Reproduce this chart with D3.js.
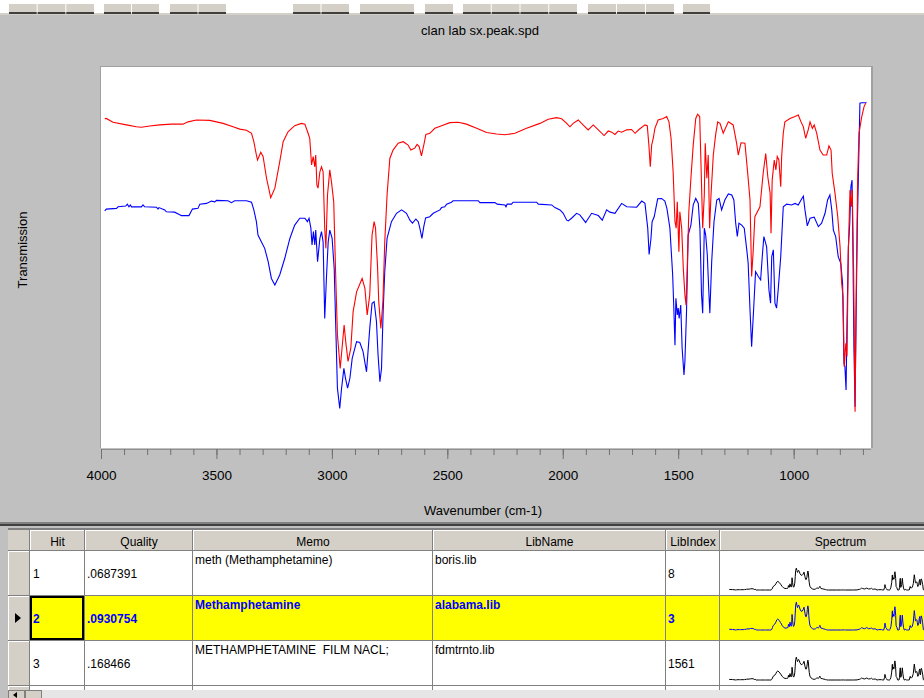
<!DOCTYPE html>
<html>
<head>
<meta charset="utf-8">
<script src="https://cdnjs.cloudflare.com/ajax/libs/d3/7.8.5/d3.min.js"></script>
<style>
  body { margin: 0; background: #c0c0c0; }
  svg { display: block; font-family: "Liberation Sans", Arial, sans-serif; }
  .pre { white-space: pre; }
</style>
</head>
<body>
<svg id="chart"></svg>
<script>
// sample spectrum (red), [wavenumber, transmission]
const sampleSpectrum = [
  [3984,86.4],[3977,86.5],[3948,85.5],[3890,84.8],[3847,84.3],[3825,84.2],[3789,84.5],[3746,84.8],[3695,85.0],[3645,85.0],
  [3623,85.6],[3587,86.1],[3529,86.0],[3471,85.2],[3428,84.3],[3399,83.7],[3370,83.4],[3348,82.6],[3338,80.4],[3327,76.9],
  [3322,75.6],[3308,77.6],[3298,76.5],[3283,70.8],[3265,65.7],[3247,68.2],[3226,75.1],[3211,80.4],[3190,83.0],[3161,84.6],
  [3132,85.2],[3117,85.0],[3103,82.6],[3096,81.3],[3088,74.3],[3081,76.5],[3074,73.8],[3070,76.9],[3065,69.0],[3060,68.2],
  [3052,72.5],[3045,73.8],[3038,72.5],[3031,57.7],[3026,52.4],[3019,66.4],[3009,73.0],[3002,69.9],[2992,64.6],[2984,46.3],
  [2976,29.7],[2964,20.9],[2956,26.2],[2947,32.3],[2940,27.9],[2930,22.7],[2918,26.2],[2908,35.8],[2893,41.0],[2869,44.5],
  [2857,41.9],[2847,34.9],[2836,40.2],[2826,55.9],[2817,59.4],[2811,57.7],[2802,47.2],[2797,38.4],[2788,31.4],[2779,38.4],
  [2771,54.1],[2761,66.4],[2749,76.0],[2735,78.2],[2713,80.0],[2691,80.4],[2670,79.5],[2658,78.2],[2641,78.7],[2631,79.7],
  [2622,79.1],[2612,76.7],[2602,79.5],[2593,82.3],[2576,82.6],[2554,83.9],[2525,84.6],[2489,85.4],[2453,85.5],[2417,85.0],
  [2373,83.9],[2330,82.8],[2287,82.4],[2251,82.2],[2207,82.6],[2157,83.9],[2099,85.2],[2063,86.3],[2027,86.7],[2005,86.4],
  [1983,85.2],[1969,84.3],[1955,85.2],[1933,86.1],[1912,84.8],[1890,83.5],[1868,84.8],[1846,83.5],[1821,82.0],[1803,83.2],
  [1788,82.9],[1774,82.3],[1760,83.2],[1745,82.9],[1723,83.5],[1702,83.6],[1687,82.6],[1670,83.6],[1644,84.8],[1634,84.6],
  [1627,79.5],[1621,73.8],[1615,79.5],[1608,81.3],[1601,83.9],[1587,86.1],[1565,86.5],[1550,87.0],[1540,85.6],[1531,81.3],
  [1522,72.5],[1514,59.4],[1509,57.7],[1504,64.6],[1497,51.5],[1493,62.0],[1485,57.7],[1478,47.2],[1471,40.2],[1466,37.5],
  [1461,47.2],[1454,62.0],[1445,70.8],[1435,79.5],[1424,86.5],[1416,87.6],[1407,87.0],[1402,76.0],[1394,57.7],[1387,66.4],
  [1383,80.0],[1376,70.8],[1370,76.9],[1364,57.7],[1358,66.4],[1348,76.9],[1338,82.2],[1329,85.6],[1319,85.2],[1305,82.6],
  [1283,85.6],[1262,84.8],[1247,80.0],[1240,76.9],[1228,80.1],[1211,80.0],[1199,72.1],[1189,65.1],[1182,45.0],[1175,52.0],
  [1168,60.7],[1146,63.3],[1132,72.1],[1121,77.3],[1112,71.2],[1102,66.9],[1098,56.4],[1093,70.3],[1084,75.6],[1077,73.0],
  [1071,76.5],[1064,75.6],[1056,68.6],[1052,76.5],[1045,82.6],[1038,85.6],[1016,86.5],[994,87.0],[980,87.4],[968,85.6],
  [958,84.3],[948,81.3],[937,83.5],[929,85.6],[919,83.9],[911,84.8],[900,82.6],[886,78.2],[872,76.9],[857,76.9],
  [847,79.3],[838,78.2],[833,72.1],[821,66.9],[809,60.7],[799,52.8],[792,43.2],[786,39.7],[781,21.3],[774,27.5],
  [769,24.0],[763,52.0],[756,67.7],[750,63.3],[746,67.7],[740,45.0],[734,9.5],[729,41.5],[723,70.3],[717,82.6],
  [705,87.0],[695,89.6],[688,90.5]
];

// library hit spectrum (blue), [wavenumber, transmission]
const librarySpectrum = [
  [3984,62.2],[3977,62.7],[3933,62.9],[3926,63.3],[3893,63.5],[3886,64.0],[3879,63.3],[3873,63.8],[3868,63.3],[3825,63.3],
  [3818,63.8],[3811,63.3],[3760,63.2],[3753,62.7],[3749,63.1],[3724,62.5],[3717,62.0],[3681,61.9],[3659,61.2],[3652,61.0],
  [3619,61.0],[3604,62.7],[3580,62.9],[3572,64.0],[3543,64.2],[3522,64.8],[3507,64.6],[3500,65.0],[3450,64.9],[3435,64.4],
  [3421,64.9],[3370,64.9],[3348,64.5],[3338,62.5],[3327,59.4],[3320,55.9],[3305,54.1],[3291,52.4],[3276,48.9],[3262,44.5],
  [3247,42.8],[3226,45.4],[3204,49.8],[3182,55.0],[3161,58.5],[3139,60.3],[3117,60.3],[3106,59.4],[3099,60.3],[3091,57.7],
  [3086,53.3],[3080,56.8],[3074,53.3],[3070,57.2],[3062,48.9],[3052,55.0],[3045,56.8],[3038,54.1],[3031,34.0],[3023,45.4],
  [3016,54.1],[3009,57.2],[2999,55.0],[2990,47.2],[2983,31.4],[2976,15.7],[2966,10.4],[2958,15.7],[2948,20.9],[2941,18.3],
  [2932,15.7],[2922,18.3],[2912,23.5],[2893,27.9],[2879,27.7],[2865,25.3],[2850,20.0],[2836,31.4],[2826,38.0],[2817,38.4],
  [2807,33.2],[2800,24.4],[2792,17.4],[2785,20.9],[2778,35.8],[2771,46.3],[2761,55.0],[2742,59.4],[2720,61.6],[2698,62.5],
  [2677,61.6],[2662,59.8],[2651,59.0],[2636,60.1],[2626,59.4],[2619,57.7],[2610,55.0],[2602,58.1],[2594,60.4],[2576,60.7],
  [2561,61.6],[2532,62.5],[2525,63.1],[2511,63.3],[2503,64.0],[2482,64.5],[2475,64.9],[2366,64.9],[2359,64.4],[2294,64.4],
  [2284,64.0],[2251,63.8],[2246,63.3],[2241,64.0],[2222,64.0],[2215,64.5],[2113,64.5],[2106,64.0],[2048,63.8],[2034,63.1],
  [2012,62.5],[1998,61.6],[1983,59.8],[1976,59.6],[1962,60.3],[1940,61.6],[1926,61.2],[1901,59.2],[1875,61.6],[1846,61.0],
  [1829,59.8],[1810,62.5],[1796,61.9],[1774,61.6],[1745,64.2],[1723,63.3],[1680,63.2],[1658,64.8],[1644,64.2],[1632,57.7],
  [1626,50.8],[1618,55.0],[1613,59.4],[1604,60.7],[1589,65.4],[1572,65.5],[1558,64.8],[1549,62.9],[1536,57.7],[1524,45.4],
  [1519,36.7],[1514,27.0],[1510,39.3],[1504,34.9],[1500,36.7],[1496,34.0],[1489,37.5],[1483,26.2],[1475,19.2],[1471,22.7],
  [1464,35.8],[1457,55.9],[1445,58.5],[1435,63.8],[1424,65.5],[1413,64.2],[1406,57.7],[1399,40.2],[1394,35.4],[1387,57.7],
  [1381,55.9],[1374,50.7],[1368,41.9],[1363,35.4],[1355,48.9],[1345,59.4],[1333,65.1],[1323,65.5],[1312,62.5],[1298,65.1],
  [1283,66.7],[1268,66.4],[1259,65.1],[1251,59.0],[1244,55.5],[1237,59.0],[1225,58.5],[1214,57.7],[1203,52.0],[1197,48.5],
  [1189,36.2],[1182,26.6],[1172,38.0],[1165,46.3],[1153,45.0],[1143,44.1],[1136,50.2],[1129,55.5],[1117,52.8],[1107,41.5],
  [1100,38.0],[1095,50.2],[1088,52.0],[1081,38.0],[1074,36.7],[1067,41.5],[1056,50.2],[1045,63.3],[1030,64.0],[1009,63.8],
  [994,64.2],[980,63.8],[968,65.1],[958,66.1],[951,62.5],[941,58.3],[929,60.3],[911,60.6],[893,58.1],[879,59.0],
  [864,61.6],[853,65.1],[843,66.4],[835,62.5],[828,57.2],[818,55.5],[807,50.2],[796,48.5],[788,43.2],[782,22.2],
  [778,21.3],[773,15.2],[769,32.7],[763,52.8],[757,59.0],[752,68.6],[747,70.3],[743,50.2],[739,26.6],[734,10.8],
  [730,32.7],[724,59.0],[720,70.3],[713,90.5],[705,90.6],[684,90.6]
];

const majorTicks = [4000, 3500, 3000, 2500, 2000, 1500, 1000];
const minorTicks = [4000,3900,3800,3700,3600,3500,3400,3300,3200,3100,3000,2900,2800,2700,2600,2500,
  2400,2300,2200,2100,2000,1900,1800,1700,1600,1500,1400,1300,1200,1100,1000,900,800,700];

// hit list table (row 4 is cut off by the scrollbar: only its top-aligned texts peek out)
const columns = ["Hit", "Quality", "Memo", "LibName", "LibIndex", "Spectrum"];
const hits = [1, 2, 3, 4];
const qualities = [".0687391", ".0930754", ".168466", ""];
const memos = ["meth (Methamphetamine)", "Methamphetamine", "METHAMPHETAMINE  FILM NACL;", "R:I METHAMPHETAMINE  FILM NACL;"];
const libNames = ["boris.lib", "alabama.lib", "fdmtrnto.lib", "fdmtrnto.lib"];
const libIndexes = [8, 3, 1561, ""];
const selectedHit = 2;

const W = 924, H = 698;
const plot = { left: 101, right: 871, top: 67, bottom: 448 };

const svg = d3.select("#chart").attr("width", W).attr("height", H);

// background
svg.append("rect").attr("width", W).attr("height", H).attr("fill", "#c0c0c0");

// toolbar strip at the very top (cut off)
svg.append("rect").attr("x", 0).attr("y", 0).attr("width", W).attr("height", 13).attr("fill", "#ffffff");
svg.append("rect").attr("x", 0).attr("y", 13).attr("width", W).attr("height", 2).attr("fill", "#d4d0c8");
const buttonGroups = [[9, 95, 3], [104, 160, 2], [170, 227, 2], [293, 350, 2], [360, 415, 1], [425, 454, 1], [463, 578, 4], [588, 675, 3], [683, 711, 1]];
buttonGroups.forEach(([x0, x1, n]) => {
  const bw = (x1 - x0) / n;
  for (let i = 0; i < n; i++) {
    const bx = x0 + i * bw;
    svg.append("rect").attr("x", bx).attr("y", 4).attr("width", bw - 1).attr("height", 9)
      .attr("fill", "#d4d0c8");
    svg.append("rect").attr("x", bx).attr("y", 12).attr("width", bw - 1).attr("height", 2)
      .attr("fill", "#404040");
  }
});

// title
svg.append("text").attr("x", 480).attr("y", 35).attr("text-anchor", "middle")
  .attr("font-size", 13).attr("fill", "#000").text("clan lab sx.peak.spd");

// plot area
svg.append("rect").attr("x", plot.left - 1).attr("y", plot.top - 1)
  .attr("width", plot.right - plot.left + 3).attr("height", plot.bottom - plot.top + 1)
  .attr("fill", "#a0a0a0");
svg.append("rect").attr("x", plot.left).attr("y", plot.top)
  .attr("width", plot.right - plot.left).attr("height", plot.bottom - plot.top)
  .attr("fill", "#ffffff");

const x = d3.scaleLinear().domain([4000, 665]).range([plot.left, plot.right]);
const y = d3.scaleLinear().domain([0, 100]).range([plot.bottom, plot.top]);

svg.append("clipPath").attr("id", "plotClip").append("rect")
  .attr("x", plot.left).attr("y", plot.top)
  .attr("width", plot.right - plot.left).attr("height", plot.bottom - plot.top);

const line = d3.line().x(d => x(d[0])).y(d => y(d[1]));

const curves = svg.append("g").attr("clip-path", "url(#plotClip)");
curves.append("path").datum(librarySpectrum)
  .attr("d", line).attr("fill", "none").attr("stroke", "#0000ff").attr("stroke-width", 1.1);
curves.append("path").datum(sampleSpectrum)
  .attr("d", line).attr("fill", "none").attr("stroke", "#ff0000").attr("stroke-width", 1.1);

// x axis: minor ticks then major ticks with labels
const minorAxis = d3.axisBottom(x).tickValues(minorTicks).tickSize(6).tickFormat("");
const majorAxis = d3.axisBottom(x).tickValues(majorTicks).tickSize(10).tickPadding(11)
  .tickFormat(d3.format("d"));

svg.append("g").attr("transform", `translate(0,${plot.bottom + 1})`).call(minorAxis)
  .call(g => g.select(".domain").attr("stroke", "#909090").attr("d", `M${plot.left},0.5H${plot.right}`))
  .call(g => g.selectAll(".tick line").attr("stroke", "#707070"));
svg.append("g").attr("transform", `translate(0,${plot.bottom + 1})`).call(majorAxis)
  .call(g => g.select(".domain").remove())
  .call(g => g.selectAll(".tick line").attr("stroke", "#707070"))
  .call(g => g.selectAll(".tick text").attr("font-size", 13.5).attr("fill", "#000")
    .attr("font-family", "'Liberation Sans', Arial, sans-serif"));

// axis titles
svg.append("text").attr("x", 483).attr("y", 515).attr("text-anchor", "middle")
  .attr("font-size", 13).text("Wavenumber (cm-1)");
svg.append("text").attr("transform", "translate(27,250) rotate(-90)").attr("text-anchor", "middle")
  .attr("font-size", 13).text("Transmission");

// ---------- hit list table ----------
const tbl = svg.append("g").attr("shape-rendering", "crispEdges");
const colX = [8, 30, 85, 193, 433, 666, 720, 961];
const headerTop = 530, headerH = 21, rowH = 45;
const rowTop = i => headerTop + headerH + i * rowH;
const tableBottom = 690;

tbl.append("rect").attr("x", 0).attr("y", 522).attr("width", W).attr("height", 2).attr("fill", "#808080");
tbl.append("rect").attr("x", 0).attr("y", 524).attr("width", W).attr("height", 2).attr("fill", "#404040");
tbl.append("rect").attr("x", 8).attr("y", 528).attr("width", W - 8).attr("height", tableBottom - 528).attr("fill", "#808080");

svg.append("clipPath").attr("id", "tableClip").append("rect")
  .attr("x", 8).attr("y", 529).attr("width", W - 8).attr("height", tableBottom - 529);
const body = svg.append("g").attr("clip-path", "url(#tableClip)");

// header cells
columns.forEach((c, i) => {
  const x0 = colX[i + 1], x1 = colX[i + 2];
  body.append("rect").attr("x", x0).attr("y", headerTop).attr("width", x1 - x0 - 1).attr("height", headerH - 1)
    .attr("fill", "#d4d0c8").attr("shape-rendering", "crispEdges");
  body.append("path").attr("d", `M${x0 + 0.5},${headerTop + headerH - 1}V${headerTop + 0.5}H${x1 - 1}`)
    .attr("stroke", "#ffffff").attr("fill", "none").attr("shape-rendering", "crispEdges");
  body.append("text").attr("x", (x0 + x1) / 2).attr("y", headerTop + 15.5).attr("text-anchor", "middle")
    .attr("font-size", 12).attr("fill", "#000").text(c);
});
body.append("rect").attr("x", colX[0]).attr("y", headerTop).attr("width", colX[1] - colX[0] - 1).attr("height", headerH - 1)
  .attr("fill", "#d4d0c8");

// mini spectrum scales
const miniX = d3.scaleLinear().domain([4000, 400]).range([728, 966]);
const miniRows = [
  { peak: 17, base: 39, color: "#000000" },
  { peak: 6, base: 34, color: "#0000ff" },
  { peak: 16, base: 39, color: "#000000" },
  { peak: 16, base: 39, color: "#000000" }
];

hits.forEach((h, i) => {
  const top = rowTop(i);
  const sel = h === selectedHit;
  const bg = sel ? "#ffff00" : "#ffffff";
  const fg = sel ? "#0000ff" : "#000000";
  const weight = sel ? "bold" : "normal";
  const visibleCenter = top + 27 < tableBottom;

  // indicator cell
  body.append("rect").attr("x", colX[0]).attr("y", top).attr("width", colX[1] - colX[0] - 1).attr("height", rowH - 1)
    .attr("fill", "#d4d0c8");
  body.append("path").attr("d", `M${colX[0] + 0.5},${top + rowH - 1}V${top + 0.5}H${colX[1] - 1}`)
    .attr("stroke", "#ffffff").attr("fill", "none");
  if (sel) {
    body.append("path").attr("d", `M15,${top + 17}L21,${top + 22}L15,${top + 27}Z`).attr("fill", "#000")
      .attr("shape-rendering", "auto");
  }

  // data cells
  for (let c = 1; c < colX.length - 1; c++) {
    body.append("rect").attr("x", colX[c]).attr("y", top).attr("width", colX[c + 1] - colX[c] - 1).attr("height", rowH - 1)
      .attr("fill", bg);
  }
  if (sel) {
    body.append("rect").attr("x", colX[1] + 1).attr("y", top + 1).attr("width", colX[2] - colX[1] - 3).attr("height", rowH - 3)
      .attr("fill", "none").attr("stroke", "#000").attr("stroke-width", 2);
  }

  const txt = (tx, ty, s) => body.append("text").attr("class", "pre").attr("x", tx).attr("y", ty)
    .attr("font-size", 12).attr("font-weight", weight).attr("fill", fg).text(s);
  if (visibleCenter) {
    txt(colX[1] + 3, top + 27, h);
    txt(colX[2] + 2, top + 27, qualities[i]);
    txt(colX[5] + 2, top + 27, libIndexes[i]);
  }
  txt(colX[3] + 2, top + 12.5, memos[i]);
  txt(colX[4] + 2, top + 12.5, libNames[i]);

  // thumbnail of library spectrum
  if (visibleCenter) {
    const r = miniRows[i];
    const miniY = d3.scaleLinear().domain([10, 64]).range([top + r.peak, top + r.base]).clamp(true);
    const mini = d3.line().x(d => miniX(d[0])).y(d => miniY(d[1]));
    body.append("path").datum(librarySpectrum).attr("d", mini)
      .attr("fill", "none").attr("stroke", r.color).attr("stroke-width", 1)
      .attr("shape-rendering", "auto");
  }
});

// horizontal scrollbar
svg.append("rect").attr("x", 8).attr("y", tableBottom).attr("width", W - 8).attr("height", H - tableBottom)
  .attr("fill", "#e6e6e6");
svg.append("rect").attr("x", 8).attr("y", tableBottom).attr("width", 16).attr("height", H - tableBottom)
  .attr("fill", "#d4d0c8").attr("stroke", "#808080").attr("shape-rendering", "crispEdges");
svg.append("rect").attr("x", 25).attr("y", tableBottom).attr("width", 16).attr("height", H - tableBottom)
  .attr("fill", "#d4d0c8").attr("stroke", "#808080").attr("shape-rendering", "crispEdges");
svg.append("path").attr("d", `M13,${tableBottom + 5}L17,${tableBottom + 2}V${tableBottom + 8}Z`).attr("fill", "#000");
</script>
</body>
</html>
